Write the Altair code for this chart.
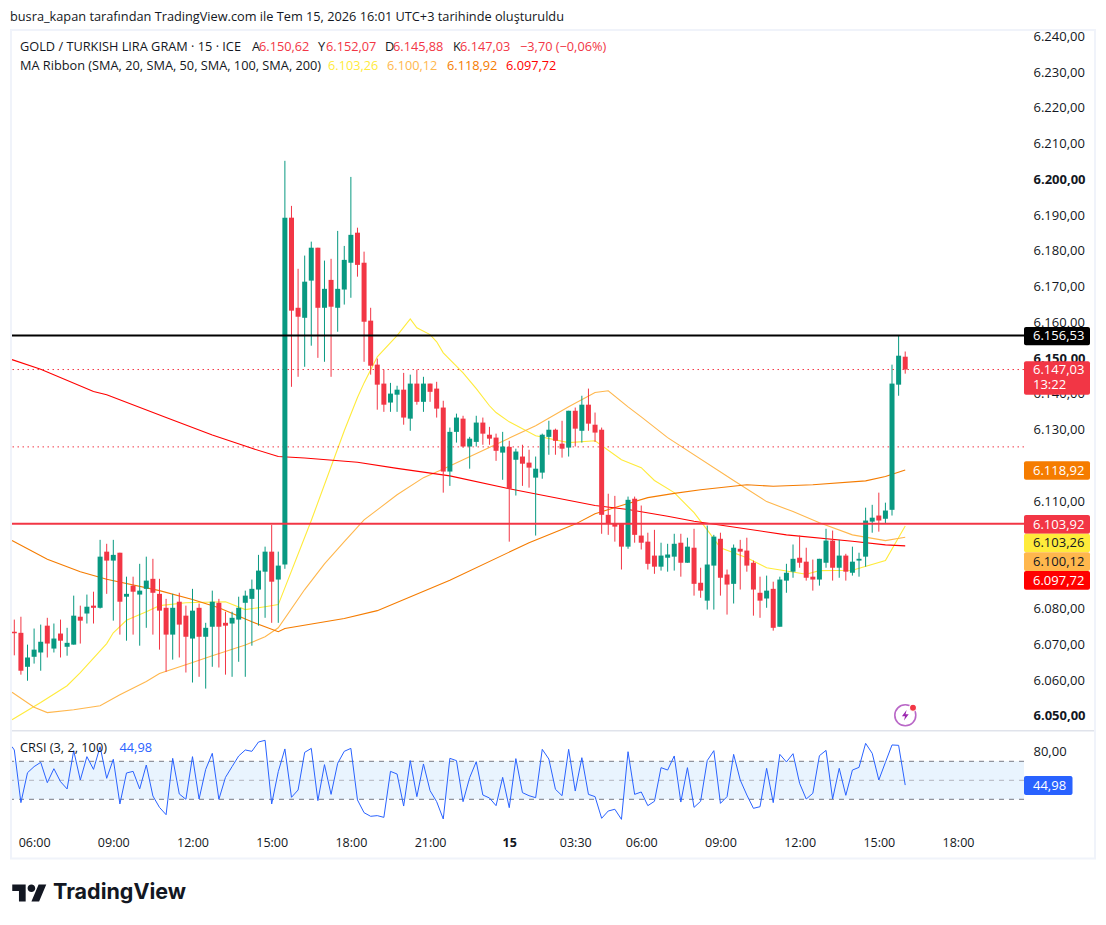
import altair as alt
import pandas as pd

FONT = "Open Sans"
UP, DOWN = "#089981", "#F23645"

opens = [6073.7,6073.4,6063.9,6066.7,6067.9,6075.4,6069.0,6073.2,6069.5,6070.1,
6077.9,6078.8,6081.0,6080.4,6096.1,6093.6,6095.8,6083.5,6086.6,6084.1,
6085.7,6088.5,6084.3,6080.4,6072.9,6082.1,6078.2,6071.8,6080.4,6072.3,
6075.1,6081.8,6076.2,6076.0,6077.1,6081.8,6082.9,6085.5,6090.5,6096.1,
6088.3,6092.5,6189.5,6164.3,6161.5,6171.9,6181.1,6164.3,6172.1,6164.3,
6169.4,6176.9,6185.3,6176.9,6160.7,6148.4,6143.1,6137.8,6140.0,6141.4,
6133.3,6143.1,6138.0,6143.1,6141.7,6136.4,6118.5,6129.6,6133.3,6125.5,
6126.8,6132.2,6128.8,6128.0,6123.8,6125.4,6121.8,6122.7,6121.0,6116.8,
6118.2,6128.2,6130.2,6126.3,6125.2,6135.5,6129.9,6137.2,6131.6,6130.2,
6106.4,6103.9,6103.9,6097.5,6110.9,6100.6,6098.9,6095.0,6091.9,6094.4,
6094.7,6098.6,6093.0,6097.2,6087.4,6082.4,6092.2,6099.7,6089.7,6087.1,
6096.9,6096.4,6093.0,6084.6,6083.0,6085.7,6075.1,6088.0,6090.5,6094.4,
6093.3,6089.1,6088.3,6093.0,6099.2,6091.6,6095.0,6090.2,6093.6,6094.7,
6104.5,6106.2,6105.3,6107.8,6142.8,6150.62]
highs = [6077.1,6077.9,6070.1,6074.6,6075.7,6077.6,6076.0,6077.1,6074.8,6083.8,
6081.0,6084.1,6084.9,6099.4,6098.3,6099.4,6095.8,6089.1,6089.1,6092.7,
6094.7,6094.1,6088.5,6082.9,6084.3,6084.6,6081.0,6085.7,6081.6,6076.2,
6085.2,6082.9,6079.3,6079.3,6083.5,6085.2,6088.3,6095.2,6097.5,6103.6,
6096.1,6205.4,6192.8,6175.2,6178.9,6182.8,6181.1,6177.5,6178.0,6185.8,
6181.6,6200.9,6186.7,6180.0,6164.3,6150.1,6147.0,6143.3,6142.5,6146.1,
6145.6,6147.0,6145.0,6143.1,6143.6,6138.3,6130.8,6134.7,6134.1,6128.2,
6134.1,6133.6,6131.0,6129.1,6129.6,6127.1,6124.9,6126.0,6124.6,6122.7,
6129.1,6132.7,6130.5,6132.7,6135.5,6136.4,6139.7,6141.7,6135.0,6130.8,
6112.3,6111.7,6103.9,6111.5,6111.5,6109.0,6101.4,6102.2,6098.6,6098.3,
6101.1,6101.1,6100.0,6102.5,6091.6,6103.4,6100.8,6101.4,6091.1,6098.1,
6099.4,6100.0,6093.6,6089.1,6089.4,6087.7,6089.1,6092.7,6098.1,6100.6,
6097.2,6093.9,6094.1,6102.5,6102.0,6099.4,6095.5,6097.5,6095.8,6108.4,
6109.2,6112.6,6109.8,6148.4,6156.53,6152.07]
lows = [6067.1,6061.7,6060.0,6064.8,6062.8,6066.5,6067.9,6066.5,6067.0,6070.1,
6070.4,6076.0,6076.0,6080.2,6084.3,6076.8,6072.9,6071.2,6072.9,6069.8,
6074.8,6072.9,6068.7,6062.5,6065.9,6066.5,6062.3,6059.5,6061.1,6057.8,
6063.9,6063.7,6061.7,6061.1,6065.3,6061.1,6069.8,6075.4,6077.6,6076.2,
6076.2,6091.3,6142.2,6145.0,6147.8,6153.7,6150.3,6149.2,6145.0,6157.6,
6165.2,6167.1,6173.0,6149.2,6145.6,6135.8,6135.2,6135.2,6135.2,6131.6,
6129.9,6137.2,6135.2,6138.0,6133.6,6112.6,6114.5,6126.6,6125.2,6119.3,
6125.5,6126.0,6126.0,6121.5,6116.2,6098.9,6111.8,6114.5,6114.0,6100.6,
6116.5,6123.2,6123.2,6122.4,6122.7,6125.5,6126.6,6129.9,6126.8,6101.1,
6100.8,6098.9,6091.1,6096.9,6098.6,6096.7,6091.1,6089.9,6090.8,6090.5,
6090.8,6089.1,6093.0,6083.8,6083.2,6079.9,6079.9,6083.8,6078.5,6081.6,
6085.5,6090.5,6078.2,6077.6,6080.4,6074.0,6075.1,6084.6,6088.8,6091.6,
6088.0,6085.2,6086.6,6091.6,6088.0,6088.8,6088.0,6089.4,6089.1,6091.9,
6101.4,6101.7,6103.9,6106.2,6139.7,6145.88]
closes = [6073.3,6062.8,6066.5,6068.7,6070.9,6070.4,6071.8,6071.2,6070.6,6078.2,
6076.8,6080.7,6080.4,6094.7,6093.6,6095.2,6082.1,6084.3,6084.9,6085.2,
6088.0,6084.6,6079.6,6072.9,6080.4,6075.7,6072.3,6079.6,6072.3,6074.8,
6082.1,6075.1,6075.4,6077.6,6080.4,6083.8,6085.7,6090.8,6096.1,6087.7,
6092.2,6189.5,6163.5,6161.8,6171.6,6181.1,6164.3,6169.6,6164.6,6169.6,
6177.7,6184.7,6176.3,6160.4,6148.1,6142.8,6137.2,6140.3,6141.4,6133.6,
6143.1,6138.0,6143.1,6140.8,6136.1,6118.5,6129.6,6133.6,6125.5,6127.7,
6132.2,6129.1,6127.7,6124.3,6125.5,6113.7,6124.1,6120.7,6119.6,6119.3,
6128.8,6130.2,6127.1,6124.9,6135.5,6130.5,6137.2,6131.9,6129.4,6106.4,
6103.9,6103.1,6097.5,6110.6,6100.8,6098.6,6092.7,6091.9,6095.0,6095.3,
6098.3,6093.0,6097.5,6087.1,6085.2,6092.5,6100.3,6088.8,6086.9,6097.2,
6096.1,6092.2,6085.5,6082.4,6085.2,6074.8,6088.3,6090.2,6094.1,6093.0,
6088.8,6088.3,6094.1,6099.2,6091.6,6095.0,6090.5,6093.3,6094.1,6104.8,
6105.6,6104.8,6107.6,6143.1,6150.9,6147.03]

ma20_idx = [-0.35,4,8,10,14,15,17,20,22,26,32,35,38,40,45,50,52,53,55,58,60,61,63,64,65,68,70,72,73,75,79,84,88,92,95,97,100,103,105,107,111,114,120,122,127,132,135]
ma20_val = [6049.1,6053.9,6058.6,6062.3,6070.4,6073.4,6076.9,6079.3,6081.0,6081.8,6082.1,6079.9,6080.7,6081.3,6104.8,6129.9,6139.2,6143.3,6150.6,6156.5,6161.2,6158.7,6156.8,6154.8,6151.7,6146.1,6141.7,6136.9,6135.0,6132.4,6128.5,6126.6,6127.1,6121.8,6119.6,6116.0,6112.6,6107.0,6102.2,6097.2,6094.4,6091.6,6089.8,6090.8,6090.9,6093.6,6103.26]
ma50_idx = [-0.35,3,5,9,13,16,20,22,27,30,35,38,40,44,47,50,53,55,58,62,65,68,79,84,88,90,93,95,99,109,114,118,122,127,132,135]
ma50_val = [6056.8,6052.6,6051.1,6051.9,6053.0,6056.1,6059.8,6062.0,6065.1,6067.0,6070.0,6072.3,6074.8,6085.5,6092.7,6098.9,6105.0,6107.8,6112.0,6116.8,6119.2,6121.8,6131.3,6136.6,6140.6,6141.1,6136.6,6133.8,6128.0,6116.0,6110.1,6107.3,6104.2,6100.8,6099.2,6100.12]
ma100_idx = [-0.35,5,10,14,22,27,31,36,40,41,50,55,66,78,85,88,92,96,100,104,111,115,121,129,132,135]
ma100_val = [6099.2,6094.0,6090.5,6088.4,6085.2,6082.7,6080.4,6076.5,6073.7,6074.6,6077.4,6079.6,6088.1,6098.6,6103.8,6106.7,6109.0,6111.2,6112.4,6113.4,6114.8,6114.4,6114.8,6115.9,6117.1,6118.92]
ma200_idx = [-0.35,4,12,14,23,30,36,40,44,52,58,66,75,88,93,99,103,117,127,132,135]
ma200_val = [6149.8,6147.1,6140.9,6140.0,6133.6,6128.7,6125.0,6122.7,6122.3,6121.1,6119.4,6117.3,6113.7,6109.0,6107.9,6106.0,6104.6,6100.8,6099.0,6098.0,6097.72]

crsi_start = 85.4
crsi = [81.9,26.5,58.0,64.4,68.9,47.5,62.2,48.6,40.9,81.2,
50.3,74.9,61.5,85.4,52.1,72.1,25.1,57.7,59.4,40.9,
66.1,33.5,21.5,13.8,73.1,35.6,30.0,74.9,30.3,61.5,
78.4,30.0,53.1,64.4,75.6,81.9,80.5,90.3,92.1,25.1,
59.1,83.0,32.1,39.8,79.4,83.6,28.6,66.5,35.2,67.9,
80.5,83.6,29.3,15.9,12.1,12.8,11.0,59.4,56.6,22.9,
70.7,32.8,67.2,39.1,27.5,9.3,73.1,70.7,27.5,52.8,
69.6,34.5,31.4,23.3,53.1,21.2,72.8,37.0,33.8,31.7,
82.6,72.4,40.5,33.8,82.6,38.7,73.8,35.2,32.8,10.0,
17.7,19.5,8.9,80.1,35.2,37.7,23.3,27.9,63.3,60.8,
75.6,27.1,63.3,21.5,27.9,70.7,81.2,25.7,32.8,77.3,
50.3,34.5,20.5,22.2,62.6,26.5,77.3,69.3,78.0,46.8,
30.3,36.3,75.9,81.5,30.3,62.6,34.2,60.8,63.6,88.9,
78.4,50.3,68.9,87.2,86.8,44.98]

time_ticks = [3,15,27,39,51,63,75,85,95,107,119,131,143]
time_labels = ["06:00","09:00","12:00","15:00","18:00","21:00","15","03:30","06:00","09:00","12:00","15:00","18:00"]
price_ticks = [6050,6060,6070,6080,6110,6130,6140,6150,6160,6170,6180,6190,6200,6210,6220,6230,6240]
level_black = 6156.53
level_red = 6103.92
dotted_levels = [6147.03, 6125.4]
crsi_band = [30, 70]

WIDTH, HEIGHT = 1012, 700
x_scale = alt.Scale(domain=[-0.35, 153], nice=False, zero=False, padding=0)
y_scale = alt.Scale(domain=[6050, 6240], range=[686.5, 7.1], nice=False, zero=False)
c_scale = alt.Scale(domain=[0, 100], range=[797.8, 702.8], nice=False, zero=False)

n = list(range(len(opens)))
df = pd.DataFrame({"i": n, "o": opens, "h": highs, "l": lows, "c": closes})
df["dir"] = ["up" if c >= o else "down" for o, c in zip(opens, closes)]
crsi_df = pd.DataFrame({"i": [-0.35] + n, "v": [crsi_start] + crsi})
color = alt.Color("dir:N", scale=alt.Scale(domain=["up", "down"], range=[UP, DOWN]), legend=None)

num_expr = "replace(replace(replace(format(datum.value, ',.2f'), ',', '#'), '.', ','), '#', '.')"
time_expr = "[" + ",".join(f"'{t}'" for t in time_labels) + "][indexof([" + ",".join(map(str, time_ticks)) + "], datum.value)]"

x_axis = alt.Axis(values=time_ticks, labelExpr=time_expr, orient="bottom", offset=106, title=None, domain=False,
                  ticks=False, grid=False, labelPadding=0, labelFont=FONT, labelFontSize=12.5, labelColor="#131722",
                  labelBaseline="top", labelOverlap=False, labelFlush=False,
                  labelFontWeight={"condition": {"test": "datum.value == 75", "value": "bold"}, "value": "normal"})
y_axis = alt.Axis(values=price_ticks, labelExpr=num_expr, orient="right", title=None, domain=False, ticks=False,
                  grid=False, labelPadding=9, labelFont=FONT, labelFontSize=13, labelColor="#131722", labelOverlap=False,
                  labelFlush=False, labelOffset=-0.7,
                  labelFontWeight={"condition": {"test": "datum.value % 50 == 0", "value": "bold"}, "value": "normal"})
c_axis = alt.Axis(values=[80], labelExpr=num_expr, orient="right", title=None, domain=False, ticks=False, grid=False,
                  labelPadding=9, labelFont=FONT, labelFontSize=13, labelColor="#131722", labelFlush=False)


def ma_layer(idx, val, col):
    d = pd.DataFrame({"i": idx, "v": val})
    return alt.Chart(d).mark_line(color=col, strokeWidth=1.1).encode(
        x=alt.X("i:Q", scale=x_scale, axis=x_axis),
        y=alt.Y("v:Q", scale=y_scale, axis=None),
    )


wicks = alt.Chart(df).mark_rule(strokeWidth=1).encode(
    x=alt.X("i:Q", scale=x_scale, axis=x_axis),
    y=alt.Y("l:Q", scale=y_scale, axis=None), y2="h:Q", color=color)
bodies = alt.Chart(df).mark_bar(size=5).encode(
    x=alt.X("i:Q", scale=x_scale, axis=x_axis),
    y=alt.Y("o:Q", scale=y_scale, axis=None), y2="c:Q", color=color)


def level(value, col, width, dash=None):
    kw = {"strokeDash": dash} if dash else {}
    return alt.Chart(pd.DataFrame({"p": [value]})).mark_rule(color=col, strokeWidth=width, **kw).encode(
        y=alt.Y("p:Q", scale=y_scale, axis=None))


price = alt.layer(
    ma_layer(ma20_idx, ma20_val, "#FFEB3B"),
    ma_layer(ma50_idx, ma50_val, "#FFB74D"),
    ma_layer(ma100_idx, ma100_val, "#F57C00"),
    ma_layer(ma200_idx, ma200_val, "#FF0000"),
    level(dotted_levels[0], DOWN, 1, [1.5, 3.5]),
    level(dotted_levels[1], DOWN, 1, [1.5, 3.5]),
    wicks, bodies,
    level(level_black, "#000000", 2),
    level(level_red, DOWN, 2),
)

# invisible carriers for the two real axes (direct children of the top layer)
price_axis_unit = alt.Chart(df).mark_point(opacity=0).encode(
    x=alt.X("i:Q", scale=x_scale, axis=x_axis),
    y=alt.Y("c:Q", scale=y_scale, axis=y_axis))
crsi_axis_unit = alt.Chart(crsi_df).mark_point(opacity=0).encode(
    x=alt.X("i:Q", scale=x_scale, axis=x_axis),
    y=alt.Y("v:Q", scale=c_scale, axis=c_axis))

band_df = pd.DataFrame({"a": [crsi_band[0]], "b": [crsi_band[1]]})
band = alt.Chart(band_df).mark_rect(color="#E9F4FE").encode(
    x=alt.value(0), x2=alt.value(WIDTH),
    y=alt.Y("a:Q", scale=c_scale, axis=None), y2="b:Q")


def c_level(v, col):
    return alt.Chart(pd.DataFrame({"p": [v]})).mark_rule(color=col, strokeWidth=1, strokeDash=[5, 5]).encode(
        y=alt.Y("p:Q", scale=c_scale, axis=None))


crsi_line = alt.Chart(crsi_df).mark_line(color="#2962FF", strokeWidth=1).encode(
    x=alt.X("i:Q", scale=x_scale, axis=x_axis),
    y=alt.Y("v:Q", scale=c_scale, axis=None))
panel = alt.layer(band, c_level(70, "#787B86"), c_level(50, "#B2B5BE"), c_level(30, "#787B86"), crsi_line)

dummy = alt.Data(values=[{"a": 1}])


def vx(px):
    return px - 12


def vy(py):
    return py - 30


def text(s, px, py, col="#131722", size=12.75, weight="normal", font=FONT):
    return alt.Chart(dummy).mark_text(align="left", baseline="middle", font=font, fontSize=size,
                                      fontWeight=weight, color=col).encode(
        x=alt.value(vx(px)), y=alt.value(vy(py)), text=alt.value(s))


def box(x0, x1, y0, y1, col, radius=0):
    return alt.Chart(dummy).mark_rect(color=col, cornerRadius=radius).encode(
        x=alt.value(vx(x0)), x2=alt.value(vx(x1)), y=alt.value(vy(y0)), y2=alt.value(vy(y1)))


tags = [
    ("6.156,53", 327, 345.3, "#000000", "#FFFFFF"),
    ("6.118,92", 461.3, 479.7, "#F57C00", "#FFFFFF"),
    ("6.103,92", 515, 533.7, "#F23645", "#FFFFFF"),
    ("6.103,26", 533.7, 552.3, "#FFEB3B", "#131722"),
    ("6.100,12", 552.3, 571, "#FFB74D", "#131722"),
    ("6.097,72", 571, 589.7, "#FF0000", "#FFFFFF"),
]
ann = []
# frame
FRAME = "#F0F3FA"
ann += [box(10, 12, 29, 859, FRAME), box(1094, 1096, 29, 859, FRAME), box(10, 1096, 29, 31, FRAME),
        box(10, 1096, 857.5, 859.5, FRAME), box(12, 1094, 730, 731.5, "#E0E3EB")]
for s, y0, y1, bg, fg in tags:
    ann.append(box(1024, 1090, y0, y1, bg, 2))
    ann.append(text(s, 1033, (y0 + y1) / 2 + 0.2, fg, 13))
ann.append(box(1024, 1090, 361.3, 394.7, DOWN, 2))
ann.append(text("6.147,03", 1033, 370, "#FFFFFF", 13))
ann.append(text("13:22", 1033, 385, "#FFFFFF", 13))
ann.append(box(1024, 1072.5, 776, 795, "#2962FF", 2))
ann.append(text("44,98", 1033, 785.5, "#FFFFFF", 13))

ann.append(text("busra_kapan tarafından TradingView.com ile Tem 15, 2026 16:01 UTC+3 tarihinde oluşturuldu", 10, 17))
ann.append(text("GOLD / TURKISH LIRA GRAM · 15 · ICE", 20, 47))
for s, px, col in [("A", 252, "#131722"), ("6.150,62", 259, DOWN), ("Y", 318, "#131722"), ("6.152,07", 326, DOWN),
                   ("D", 385, "#131722"), ("6.145,88", 393, DOWN), ("K", 453, "#131722"), ("6.147,03", 460, DOWN),
                   ("−3,70 (−0,06%)", 520, DOWN)]:
    ann.append(text(s, px, 47, col))
ann.append(text("MA Ribbon (SMA, 20, SMA, 50, SMA, 100, SMA, 200)", 20, 65.5))
for s, px, col in [("6.103,26", 328, "#FFEB3B"), ("6.100,12", 387, "#FFB74D"), ("6.118,92", 447, "#F57C00"),
                   ("6.097,72", 506, "#FF0000")]:
    ann.append(text(s, px, 65.5, col))
ann.append(text("CRSI (3, 2, 100)", 20, 747.5))
ann.append(text("44,98", 119.5, 747.5, "#2962FF"))

# bolt icon
ann.append(alt.Chart(dummy).mark_point(shape="circle", size=440, filled=False, stroke="#9C27B0", strokeWidth=1.6).encode(
    x=alt.value(vx(905.3)), y=alt.value(vy(715.3))))
ann.append(alt.Chart(dummy).mark_point(shape="M.25 -1L-.65 .2H-.05L-.25 1L.65 -.2H.05Z", size=110, filled=True,
                                       fill="#9C27B0", stroke="#9C27B0", strokeWidth=0, opacity=1).encode(
    x=alt.value(vx(905.3)), y=alt.value(vy(715.3))))
ann.append(alt.Chart(dummy).mark_point(shape="circle", size=50, filled=True, fill=DOWN, stroke="#FFFFFF",
                                       strokeWidth=1.2, opacity=1).encode(
    x=alt.value(vx(913)), y=alt.value(vy(707.7))))
# wordmark
LOGO = ("M-.222 .5H-.611V-.111H-1V-.5H-.222Z M.556 .5H.111L.528 -.5H.972Z "
        "M.333 -.278A.222 .222 0 1 1 -.111 -.278A.222 .222 0 1 1 .333 -.278Z")
ann.append(alt.Chart(dummy).mark_point(shape=LOGO, size=1190, filled=True, fill="#131722", stroke="#131722",
                                       strokeWidth=0, opacity=1).encode(
    x=alt.value(vx(29.5)), y=alt.value(vy(893))))
ann.append(text("TradingView", 53, 892.5, "#131722", 21.5, "bold", "Inter"))

annotations = alt.layer(*ann)

chart = alt.layer(price_axis_unit, crsi_axis_unit, price, panel, annotations).resolve_scale(y="independent").properties(
    width=WIDTH, height=HEIGHT,
    padding={"left": 4, "top": 22, "right": 74, "bottom": 185},
    autosize=alt.AutoSizeParams(type="none"),
).configure_view(strokeWidth=0)

chart.save("out.html", embed_options={"renderer": "svg", "actions": False})
